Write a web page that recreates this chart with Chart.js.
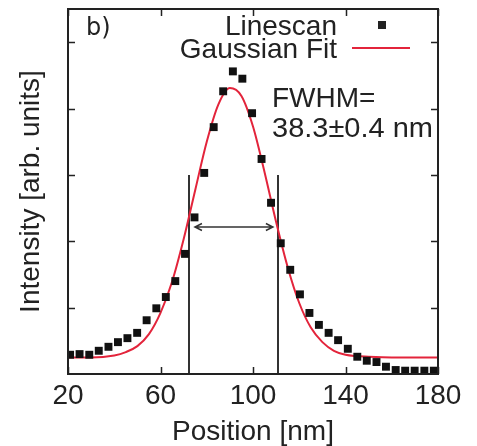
<!DOCTYPE html>
<html>
<head>
<meta charset="utf-8">
<script src="https://cdn.jsdelivr.net/npm/chart.js@4.4.0/dist/chart.umd.min.js"></script>
<style>
  html, body { margin: 0; padding: 0; background: #fff; }
  #wrap { width: 477px; height: 446px; }
</style>
</head>
<body>
<div id="wrap"><canvas id="linescanChart"></canvas></div>
<script>
// linescan points (position in nm, intensity in arb. units)
const positions = [20.9, 25.0, 29.2, 33.3, 37.5, 41.6, 45.7, 49.9, 54.0, 58.2,
  62.3, 66.4, 70.6, 74.7, 78.9, 83.0, 87.1, 91.3, 95.4, 99.6,
  103.7, 107.8, 112.0, 116.1, 120.3, 124.4, 128.5, 132.7, 136.8, 141.0,
  145.1, 149.2, 153.4, 157.5, 161.7, 165.8, 169.9, 174.1, 178.2];
const linescan = [0.29, 0.30, 0.29, 0.35, 0.41, 0.48, 0.54, 0.62, 0.81, 0.99,
  1.16, 1.40, 1.81, 2.36, 3.03, 3.72, 4.26, 4.56, 4.45, 3.93,
  3.24, 2.58, 1.97, 1.57, 1.20, 0.92, 0.74, 0.62, 0.51, 0.38,
  0.26, 0.20, 0.18, 0.11, 0.06, 0.05, 0.05, 0.05, 0.05];

// gaussian fit curve
const fitX = [20, 30, 40, 45, 50, 55, 60, 65, 70, 75, 80, 85, 90, 95, 100,
  105, 110, 115, 120, 125, 130, 135, 140, 145, 150, 160, 170, 180];
const fitY = [0.25, 0.25, 0.28, 0.33, 0.42, 0.60, 0.92, 1.39, 2.03, 2.77, 3.50, 4.06, 4.31, 4.19, 3.73,
  3.04, 2.29, 1.61, 1.07, 0.70, 0.48, 0.35, 0.29, 0.27, 0.26, 0.25, 0.25, 0.25];

// axis ticks
const xTicks = [20, 60, 100, 140, 180];
const yTicks = [1, 2, 3, 4, 5];

// FWHM markers
const fwhmEdges = [72.5, 110.8];
const fwhmLineTop = 3.0;
const arrowLevel = 2.21;
const arrowEnds = [74.9, 108.6];

const FONT = '"Liberation Sans", Arial, Helvetica, sans-serif';
const INK = '#222';
const RED = '#e3243b';

const decorations = {
  id: 'decorations',
  beforeDatasetsDraw(chart) {
    const { ctx, chartArea: a, scales: { x, y } } = chart;
    ctx.save();
    // FWHM vertical lines
    ctx.strokeStyle = '#333';
    ctx.lineWidth = 2;
    fwhmEdges.forEach(v => {
      const px = Math.round(x.getPixelForValue(v));
      ctx.beginPath();
      ctx.moveTo(px, y.getPixelForValue(fwhmLineTop));
      ctx.lineTo(px, y.getPixelForValue(0));
      ctx.stroke();
    });
    // double arrow
    const ay = Math.round(y.getPixelForValue(arrowLevel));
    const x1 = x.getPixelForValue(arrowEnds[0]);
    const x2 = x.getPixelForValue(arrowEnds[1]);
    ctx.lineWidth = 1.5;
    ctx.beginPath();
    ctx.moveTo(x1, ay); ctx.lineTo(x2, ay);
    ctx.moveTo(x1 + 7, ay - 3.5); ctx.lineTo(x1, ay); ctx.lineTo(x1 + 7, ay + 3.5);
    ctx.moveTo(x2 - 7, ay - 3.5); ctx.lineTo(x2, ay); ctx.lineTo(x2 - 7, ay + 3.5);
    ctx.stroke();
    ctx.restore();
  },
  afterDraw(chart) {
    const { ctx, chartArea: a, scales: { x, y } } = chart;
    ctx.save();
    // frame
    ctx.strokeStyle = INK;
    ctx.lineWidth = 2;
    ctx.strokeRect(a.left, a.top, a.right - a.left, a.bottom - a.top);
    // inner ticks, mirrored
    ctx.lineWidth = 1.5;
    ctx.beginPath();
    xTicks.forEach(v => {
      const px = Math.round(x.getPixelForValue(v)) + 0.5;
      ctx.moveTo(px, a.bottom); ctx.lineTo(px, a.bottom - 7);
      ctx.moveTo(px, a.top); ctx.lineTo(px, a.top + 7);
    });
    yTicks.forEach(v => {
      const py = Math.round(y.getPixelForValue(v)) + 0.5;
      ctx.moveTo(a.left, py); ctx.lineTo(a.left + 7, py);
      ctx.moveTo(a.right, py); ctx.lineTo(a.right - 7, py);
    });
    ctx.stroke();

    ctx.fillStyle = INK;
    // panel label
    ctx.font = '24px "DejaVu Sans", sans-serif';
    ctx.textAlign = 'left';
    ctx.textBaseline = 'alphabetic';
    ctx.fillText('b)', 86, 35);

    // legend
    ctx.font = '28px ' + FONT;
    ctx.textAlign = 'right';
    ctx.fillText('Linescan', 337, 35);
    ctx.fillText('Gaussian Fit', 337, 58);
    ctx.fillRect(378, 21, 8, 8);
    ctx.strokeStyle = RED;
    ctx.lineWidth = 2;
    ctx.beginPath();
    ctx.moveTo(352, 48); ctx.lineTo(410, 48);
    ctx.stroke();

    // FWHM note
    ctx.textAlign = 'left';
    ctx.fillText('FWHM=', 272, 107);
    ctx.save();
    ctx.translate(272, 137);
    const w = ctx.measureText('38.3±0.4 nm').width;
    ctx.scale(161 / w, 1);
    ctx.fillText('38.3±0.4 nm', 0, 0);
    ctx.restore();
    ctx.restore();
  }
};

new Chart(document.getElementById('linescanChart'), {
  type: 'scatter',
  data: {
    datasets: [
      {
        label: 'Linescan',
        data: positions.map((p, i) => ({ x: p, y: linescan[i] })),
        pointStyle: 'rect',
        pointRadius: 5.6,
        pointBackgroundColor: '#111',
        pointBorderWidth: 0,
        showLine: false
      },
      {
        label: 'Gaussian Fit',
        data: fitX.map((p, i) => ({ x: p, y: fitY[i] })),
        showLine: true,
        borderColor: RED,
        borderWidth: 2,
        pointRadius: 0,
        cubicInterpolationMode: 'monotone'
      }
    ]
  },
  options: {
    responsive: true,
    maintainAspectRatio: false,
    animation: false,
    layout: { padding: { top: 9, right: 39, left: 0, bottom: 0 } },
    plugins: {
      legend: { display: false },
      tooltip: { enabled: false }
    },
    scales: {
      x: {
        type: 'linear',
        min: 20,
        max: 180,
        grid: { display: false, drawTicks: false },
        border: { display: false },
        afterBuildTicks: s => { s.ticks = xTicks.map(v => ({ value: v })); },
        afterFit: s => { s.height = 72; },
        ticks: {
          padding: 5,
          color: INK,
          maxRotation: 0,
          autoSkip: false,
          font: { family: FONT, size: 28 }
        },
        title: {
          display: true,
          text: 'Position [nm]',
          color: INK,
          padding: 0,
          font: { family: FONT, size: 28, lineHeight: 1 }
        }
      },
      y: {
        type: 'linear',
        min: 0,
        max: 5.5,
        grid: { display: false, drawTicks: false },
        border: { display: false },
        ticks: { display: false },
        afterFit: s => { s.width = 68; },
        title: {
          display: true,
          text: 'Intensity [arb. units]',
          color: INK,
          padding: { top: 14, bottom: 0 },
          font: { family: FONT, size: 28 }
        }
      }
    }
  },
  plugins: [decorations]
});
</script>
</body>
</html>
